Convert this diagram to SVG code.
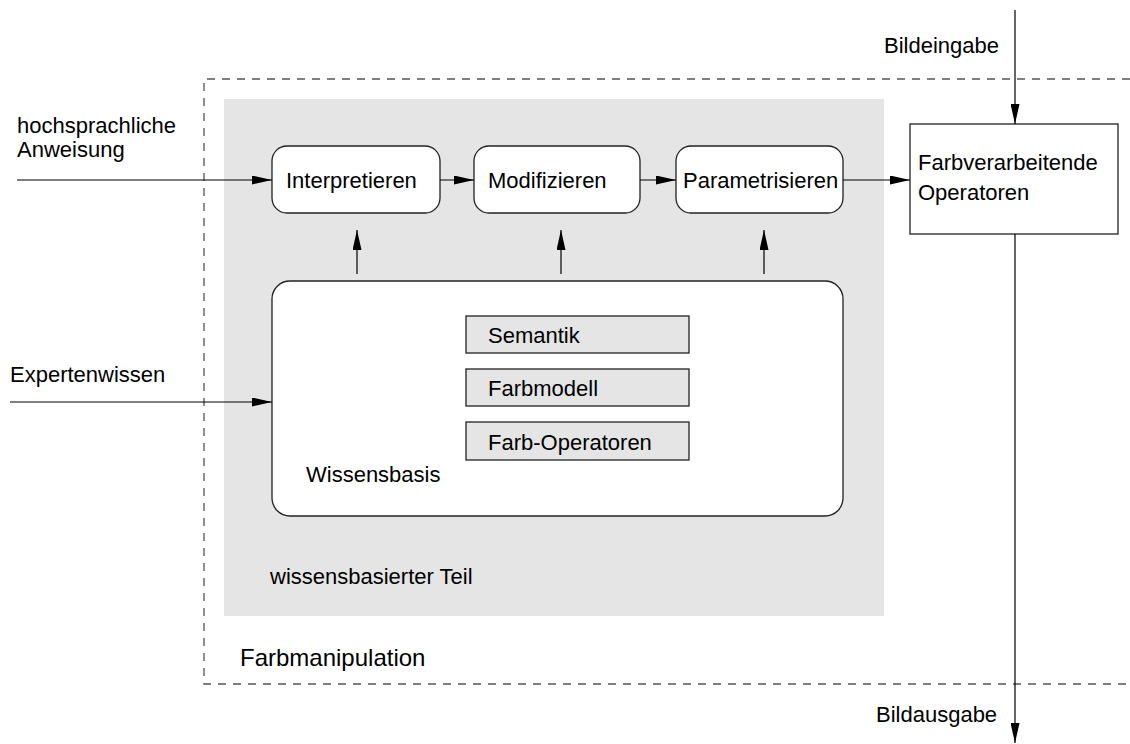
<svg xmlns="http://www.w3.org/2000/svg" width="1130" height="744" viewBox="0 0 1130 744">
<style>
text{font-family:"Liberation Sans",Arial,sans-serif;font-size:22px;fill:#000}
.big{font-size:24px}
.rbox{fill:#fff;stroke:#222;stroke-width:1.3}
.sub{fill:#e5e5e5;stroke:#222;stroke-width:1.3}
.conn{stroke:#000;stroke-width:1.2;fill:none}
.dash{stroke:#555;stroke-width:1.3;fill:none;stroke-dasharray:8 7}
</style>
<defs>
<marker id="ah" markerWidth="20" markerHeight="9" refX="20" refY="4.5" orient="auto" markerUnits="userSpaceOnUse">
<path d="M0,0 L20,4.5 L0,9 Z" fill="#000"/>
</marker>
</defs>
<g id="farbmanipulation">
<path class="dash" d="M1130,79 H204 V684 H1130"/>
<text class="big" x="240" y="666">Farbmanipulation</text>
</g>
<g id="wissensbasierter-teil">
<rect x="224" y="99" width="660" height="517" fill="#e5e5e5"/>
<text x="270" y="584">wissensbasierter Teil</text>
</g>
<g id="interpretieren">
<rect class="rbox" x="272" y="146" width="168" height="67" rx="15"/>
<text x="286" y="188">Interpretieren</text>
</g>
<g id="modifizieren">
<rect class="rbox" x="474" y="146" width="166" height="67" rx="15"/>
<text x="488" y="188">Modifizieren</text>
</g>
<g id="parametrisieren">
<rect class="rbox" x="676" y="146" width="167" height="67" rx="15"/>
<text x="683" y="188">Parametrisieren</text>
</g>
<g id="farbverarbeitende-operatoren">
<rect class="rbox" x="910" y="124" width="208" height="110" rx="0"/>
<text x="918" y="170">Farbverarbeitende</text>
<text x="918" y="200">Operatoren</text>
</g>
<g id="wissensbasis">
<rect class="rbox" x="272" y="281" width="571" height="235" rx="18"/>
<text x="306" y="482">Wissensbasis</text>
</g>
<g id="semantik">
<rect class="sub" x="466" y="316" width="223" height="37"/>
<text x="488" y="343">Semantik</text>
</g>
<g id="farbmodell">
<rect class="sub" x="466" y="369" width="223" height="37"/>
<text x="488" y="396">Farbmodell</text>
</g>
<g id="farb-operatoren">
<rect class="sub" x="466" y="422" width="223" height="38"/>
<text x="488" y="450">Farb-Operatoren</text>
</g>
<g id="labels">
<text x="17" y="133">hochsprachliche</text>
<text x="17" y="157">Anweisung</text>
<text x="10" y="382">Expertenwissen</text>
<text x="884" y="53">Bildeingabe</text>
<text x="876" y="722">Bildausgabe</text>
</g>
<g id="connectors">
<line class="conn" x1="17" y1="180" x2="272" y2="180" marker-end="url(#ah)"/>
<line class="conn" x1="440" y1="180" x2="474" y2="180" marker-end="url(#ah)"/>
<line class="conn" x1="640" y1="180" x2="676" y2="180" marker-end="url(#ah)"/>
<line class="conn" x1="843" y1="180" x2="910" y2="180" marker-end="url(#ah)"/>
<line class="conn" x1="10" y1="402" x2="272" y2="402" marker-end="url(#ah)"/>
<line class="conn" x1="357" y1="274" x2="357" y2="230" marker-end="url(#ah)"/>
<line class="conn" x1="561" y1="274" x2="561" y2="230" marker-end="url(#ah)"/>
<line class="conn" x1="764" y1="274" x2="764" y2="230" marker-end="url(#ah)"/>
<line class="conn" x1="1015" y1="10" x2="1015" y2="124" marker-end="url(#ah)"/>
<line class="conn" x1="1015" y1="234" x2="1015" y2="743" marker-end="url(#ah)"/>
</g>
</svg>
